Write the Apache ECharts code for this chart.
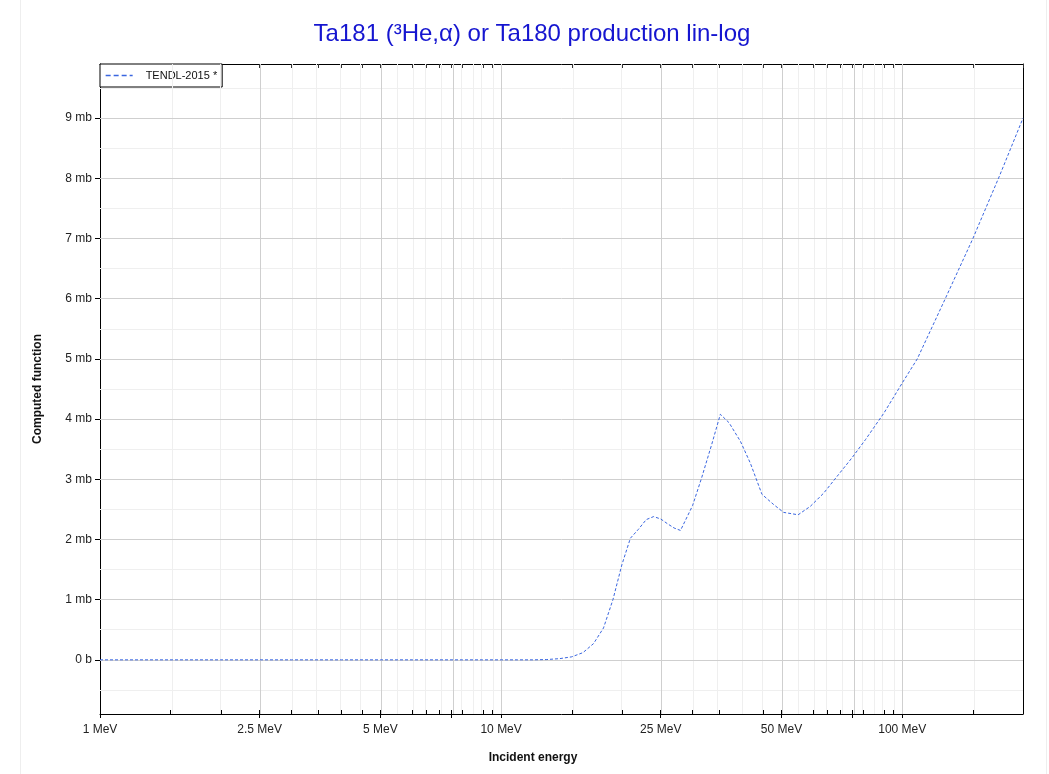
<!DOCTYPE html>
<html>
<head>
<meta charset="utf-8">
<script src="https://cdn.jsdelivr.net/npm/echarts@6/dist/echarts.min.js"></script>
<style>
html,body{margin:0;padding:0;background:#fff;}
#chart{width:1049px;height:774px;}
</style>
</head>
<body>
<div id="chart"></div>
<script>
// ---- data (energy in MeV, cross section in mb) ----
const energies = [1,2,3,4,5,6,7,8,9,10,11,12,13,14,15,16,17,18,19,20,21,22,23,24,25,26,27,28,30,31.6,33.5,35.2,37,39.5,41.8,44.7,47.8,50.6,55,59,63.7,69.4,75,81,90,100,109,128,150,175,200];
const xsMb =     [0,0,0,0,0,0,0,0,0,0,0,0,0.005,0.02,0.05,0.12,0.27,0.53,1.0,1.58,2.02,2.17,2.33,2.38,2.34,2.26,2.19,2.15,2.56,3.02,3.58,4.08,3.94,3.63,3.27,2.75,2.58,2.45,2.41,2.55,2.77,3.08,3.36,3.66,4.1,4.6,5.0,6.0,7.0,8.05,9.0];

// tick definitions
const xLabelTicks = [1,2.5,5,10,25,50,100];
const xMajorTicks = [1,2.5,5,7.5,10,25,50,75,100];
const xMinorTicks = [1.5,2,3,3.5,4,4.5,5.5,6,6.5,7,8,8.5,9,9.5,15,20,30,35,40,45,55,60,65,70,80,85,90,95,150];
const yMajorTicks = [0,1,2,3,4,5,6,7,8,9];
const yMinorTicks = [-0.5,0.5,1.5,2.5,3.5,4.5,5.5,6.5,7.5,8.5,9.5];

const xMin = 1, xMax = 200, yMin = -0.9, yMax = 9.9;

const titleText = 'Ta181 (\u00B3He,\u03B1) or Ta180 production lin-log';
const seriesName = 'TENDL-2015 *';
const xName = 'Incident energy';
const yName = 'Computed function';

const L = v => Math.log10(v);
const seriesData = energies.map((e, i) => [L(e), xsMb[i]]);
const xAllTicks = xMajorTicks.concat(xMinorTicks).concat([xMax]);
const yAllTicks = yMajorTicks.concat(yMinorTicks);

const FONT = '"Liberation Sans", Arial, sans-serif';
const gridMajor = '#cfcfcf';
const gridMinor = '#efefef';

function fmtE(v) {
  const e = Math.pow(10, v);
  const r = Math.round(e * 100) / 100;
  return r + ' MeV';
}
function fmtY(v) {
  const r = Math.round(v * 100) / 100;
  return r === 0 ? '0 b' : r + ' mb';
}

const baseX = {
  type: 'value', min: L(xMin), max: L(xMax), gridIndex: 0,
  splitLine: {show: false}, minorTick: {show: false}
};
const baseY = {
  type: 'value', min: yMin, max: yMax, gridIndex: 0,
  splitLine: {show: false}, minorTick: {show: false}
};

const gridLines = [];
xMinorTicks.forEach(v => gridLines.push({xAxis: L(v), lineStyle: {color: gridMinor, width: 1, type: 'solid'}}));
yMinorTicks.forEach(v => gridLines.push({yAxis: v, lineStyle: {color: gridMinor, width: 1, type: 'solid'}}));
xMajorTicks.slice(1).forEach(v => gridLines.push({xAxis: L(v), lineStyle: {color: gridMajor, width: 1, type: 'solid'}}));
yMajorTicks.forEach(v => gridLines.push({yAxis: v, lineStyle: {color: gridMajor, width: 1, type: 'solid'}}));

const option = {
  backgroundColor: '#fff',
  animation: false,
  grid: {left: 100, right: 26, top: 64, bottom: 60, containLabel: false},
  legend: {
    left: 100, top: 64,
    orient: 'vertical',
    backgroundColor: '#fff',
    borderColor: '#000', borderWidth: 1, borderRadius: 0,
    padding: [6, 5, 6, 5],
    itemWidth: 27, itemHeight: 10,
    textStyle: {fontFamily: FONT, fontSize: 11, color: '#111', padding: [0, 0, 0, 8]},
    itemStyle: {color: 'rgba(0,0,0,0)', borderWidth: 0, opacity: 0},
    lineStyle: {type: [5, 3], width: 1.3},
    data: [seriesName]
  },
  xAxis: [
    Object.assign({}, baseX, {
      position: 'bottom',
      axisLine: {show: true, onZero: false, lineStyle: {color: '#000', width: 1}},
      axisTick: {show: true, inside: false, length: 4, customValues: xMajorTicks.map(L), lineStyle: {color: '#000'}},
      axisLabel: {show: true, margin: 10, customValues: xLabelTicks.map(L), formatter: fmtE,
                  fontFamily: FONT, fontSize: 12, color: '#222'}
    }),
    Object.assign({}, baseX, {
      position: 'top',
      axisLine: {show: true, onZero: false, lineStyle: {color: '#000', width: 1}},
      axisTick: {show: true, inside: true, length: 4, customValues: xAllTicks.map(L), lineStyle: {color: '#333'}},
      axisLabel: {show: false}
    }),
    Object.assign({}, baseX, {
      position: 'bottom',
      axisLine: {show: false, onZero: false},
      axisTick: {show: true, inside: true, length: 4, customValues: xAllTicks.map(L), lineStyle: {color: '#000'}},
      axisLabel: {show: false}
    })
  ],
  yAxis: [
    Object.assign({}, baseY, {
      position: 'left',
      axisLine: {show: true, onZero: false, lineStyle: {color: '#000', width: 1}},
      axisTick: {show: true, inside: false, length: 5, customValues: yMajorTicks, lineStyle: {color: '#000'}},
      axisLabel: {show: true, margin: 8, customValues: yMajorTicks, formatter: fmtY,
                  fontFamily: FONT, fontSize: 12, color: '#222'}
    }),
    Object.assign({}, baseY, {
      position: 'right',
      axisLine: {show: true, onZero: false, lineStyle: {color: '#000', width: 1}},
      axisTick: {show: true, inside: true, length: 3, customValues: yAllTicks, lineStyle: {color: '#333'}},
      axisLabel: {show: false}
    }),
    Object.assign({}, baseY, {
      position: 'left',
      axisLine: {show: false, onZero: false},
      axisTick: {show: true, inside: true, length: 3, customValues: yMinorTicks, lineStyle: {color: '#333'}},
      axisLabel: {show: false}
    })
  ],
  graphic: [
    {type: 'text', x: 532, y: 22, silent: true,
     style: {text: titleText, fontFamily: FONT, fontSize: 24, fill: '#1515d0', align: 'center', verticalAlign: 'top'}},
    {type: 'text', x: 533, y: 752, silent: true,
     style: {text: xName, fontFamily: FONT, fontSize: 12, fontWeight: 'bold', fill: '#111', align: 'center', verticalAlign: 'top'}},
    {type: 'text', x: 32, y: 389, rotation: Math.PI / 2, silent: true,
     style: {text: yName, fontFamily: FONT, fontSize: 12, fontWeight: 'bold', fill: '#111', align: 'center', verticalAlign: 'top'}},
    {type: 'line', silent: true, shape: {x1: 20.5, y1: 0, x2: 20.5, y2: 774}, style: {stroke: '#eeeeee', lineWidth: 1}},
    {type: 'line', silent: true, shape: {x1: 1046.5, y1: 0, x2: 1046.5, y2: 774}, style: {stroke: '#eeeeee', lineWidth: 1}}
  ],
  series: [
    {
      name: '__grid', type: 'line', xAxisIndex: 0, yAxisIndex: 0, z: 1,
      data: [[L(xMin), yMin]], symbol: 'none', lineStyle: {opacity: 0}, silent: true,
      markLine: {silent: true, symbol: ['none', 'none'], label: {show: false}, animation: false, data: gridLines}
    },
    {
      name: seriesName, type: 'line', xAxisIndex: 0, yAxisIndex: 0, z: 5,
      data: seriesData, symbol: 'none', smooth: false,
      lineStyle: {color: '#3a66e0', width: 1, type: [3, 2]},
      itemStyle: {color: '#3a66e0'}
    }
  ]
};

const chart = echarts.init(document.getElementById('chart'), null, {renderer: 'canvas'});
chart.setOption(option);
</script>
</body>
</html>
